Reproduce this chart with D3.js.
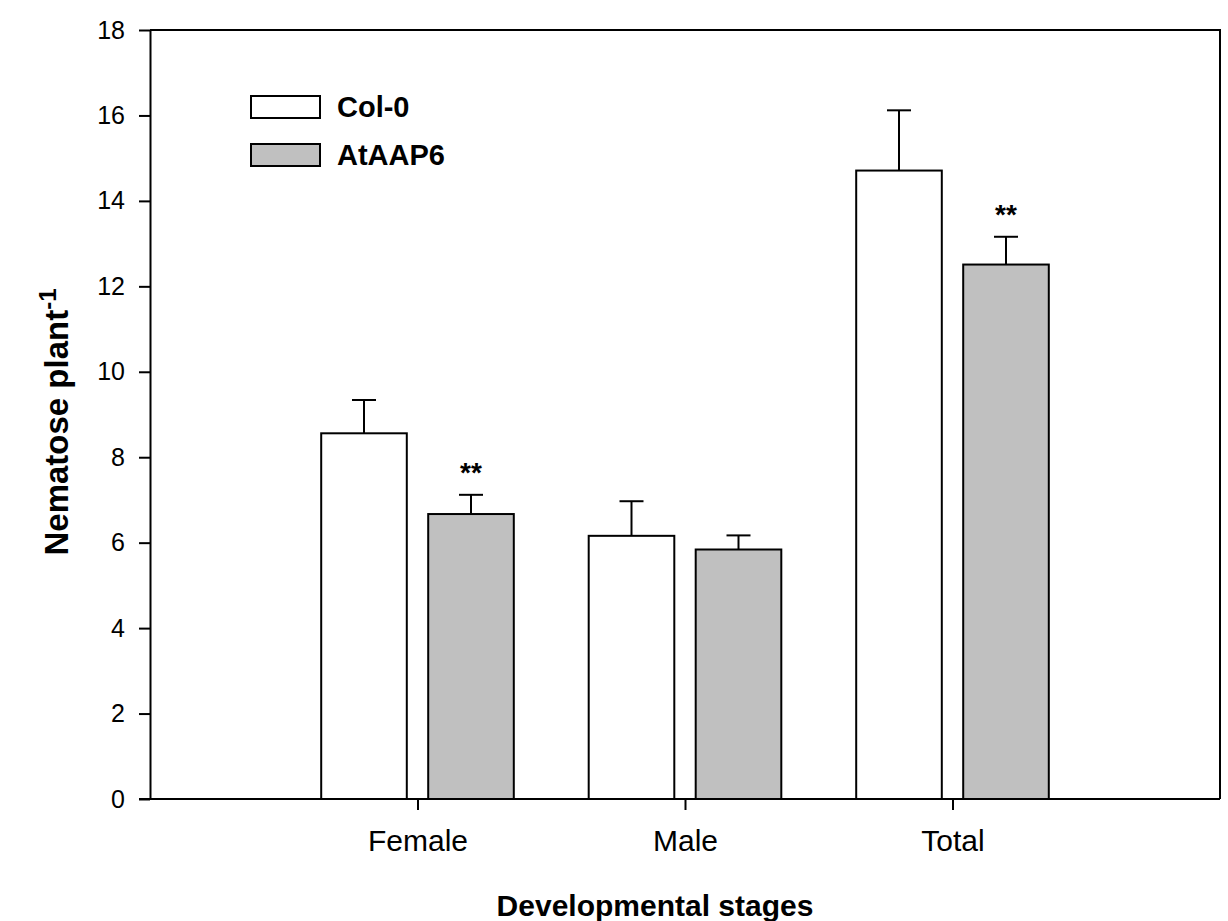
<!DOCTYPE html>
<html>
<head>
<meta charset="utf-8">
<script src="https://cdn.jsdelivr.net/npm/d3@7"></script>
<style>
  body { margin: 0; background: #fff; }
  text { font-family: Arial, "Liberation Sans", sans-serif; fill: #000; }
</style>
</head>
<body>
<div id="chart"></div>
<script>
// data
const stages = ["Female", "Male", "Total"];
const series = ["Col-0", "AtAAP6"];
const col0 = [8.56, 6.16, 14.71];
const col0Err = [0.78, 0.81, 1.41];
const aap6 = [6.67, 5.84, 12.51];
const aap6Err = [0.45, 0.33, 0.65];
const signif = ["**", "", "**"];
const yTicks = [0, 2, 4, 6, 8, 10, 12, 14, 16, 18];
const fills = ["#ffffff", "#c0c0c0"];

const width = 1228, height = 921;
const mLeft = 150, mRight = 1220, mTop = 30, mBottom = 799;

const svg = d3.select("#chart").append("svg")
  .attr("width", width)
  .attr("height", height);

// x is a linear position scale, categories sit at 1,2,3
const x = d3.scaleLinear().domain([0, 4]).range([mLeft, mRight]);
const y = d3.scaleLinear().domain([0, 18]).range([mBottom, mTop]);
const barW = 0.32, gap = 0.04;

const rows = [];
stages.forEach((s, i) => {
  rows.push({ stage: s, k: 0, pos: i + 1 - gap - barW, v: col0[i], e: col0Err[i], sig: "" });
  rows.push({ stage: s, k: 1, pos: i + 1 + gap, v: aap6[i], e: aap6Err[i], sig: signif[i] });
});

// error bars (upper only) drawn first so bar outline sits on top
const eb = svg.append("g").attr("stroke", "#000").attr("stroke-width", 2);
rows.forEach(d => {
  const cx = x(d.pos + barW / 2);
  eb.append("line").attr("x1", cx).attr("x2", cx).attr("y1", y(d.v)).attr("y2", y(d.v + d.e));
  eb.append("line").attr("x1", cx - 12).attr("x2", cx + 12).attr("y1", y(d.v + d.e)).attr("y2", y(d.v + d.e));
});

svg.append("g").selectAll("rect")
  .data(rows)
  .enter().append("rect")
  .attr("x", d => x(d.pos))
  .attr("width", d => x(d.pos + barW) - x(d.pos))
  .attr("y", d => y(d.v))
  .attr("height", d => y(0) - y(d.v))
  .attr("fill", d => fills[d.k])
  .attr("stroke", "#000")
  .attr("stroke-width", 2);

svg.append("g").selectAll("text")
  .data(rows.filter(d => d.sig))
  .enter().append("text")
  .attr("x", d => x(d.pos + barW / 2))
  .attr("y", d => y(d.v + d.e) - 13)
  .attr("text-anchor", "middle")
  .style("font-size", "28px")
  .style("font-weight", "bold")
  .text(d => d.sig);

// frame: top and right borders
svg.append("path")
  .attr("d", `M${mLeft},${mTop}H${mRight}V${mBottom}`)
  .attr("fill", "none")
  .attr("stroke", "#000")
  .attr("stroke-width", 2);

// y axis
const yAxis = svg.append("g")
  .attr("transform", `translate(${mLeft},0)`)
  .call(d3.axisLeft(y).tickValues(yTicks).tickSize(11).tickPadding(14).tickSizeOuter(0));
yAxis.selectAll("text").style("font-size", "25px");

// x axis
const xAxis = svg.append("g")
  .attr("transform", `translate(0,${mBottom})`)
  .call(d3.axisBottom(x).tickValues([1, 2, 3]).tickFormat(d => stages[d - 1]).tickSize(11).tickPadding(20).tickSizeOuter(0));
xAxis.selectAll("text").style("font-size", "30px");
xAxis.select(".domain").attr("d", `M${mLeft - 11},0H${mRight}`);

svg.selectAll(".domain, .tick line").attr("stroke", "#000").attr("stroke-width", 2);

// axis titles
svg.append("text")
  .attr("x", 655)
  .attr("y", 916)
  .attr("text-anchor", "middle")
  .style("font-size", "30px")
  .style("font-weight", "bold")
  .text("Developmental stages");

const yt = svg.append("text")
  .attr("transform", `translate(68,422) rotate(-90)`)
  .attr("text-anchor", "middle")
  .style("font-size", "33px")
  .style("font-weight", "bold");
yt.append("tspan").text("Nematose plant");
yt.append("tspan").attr("dy", -12).style("font-size", "24px").text("-1");

// legend
const lg = svg.append("g");
series.forEach((s, i) => {
  const gy = 96 + i * 48;
  lg.append("rect")
    .attr("x", 251).attr("y", gy).attr("width", 69).attr("height", 22)
    .attr("fill", fills[i]).attr("stroke", "#000").attr("stroke-width", 2);
  lg.append("text")
    .attr("x", 337).attr("y", gy + 21)
    .style("font-size", "29px")
    .style("font-weight", "bold")
    .text(s);
});
</script>
</body>
</html>
